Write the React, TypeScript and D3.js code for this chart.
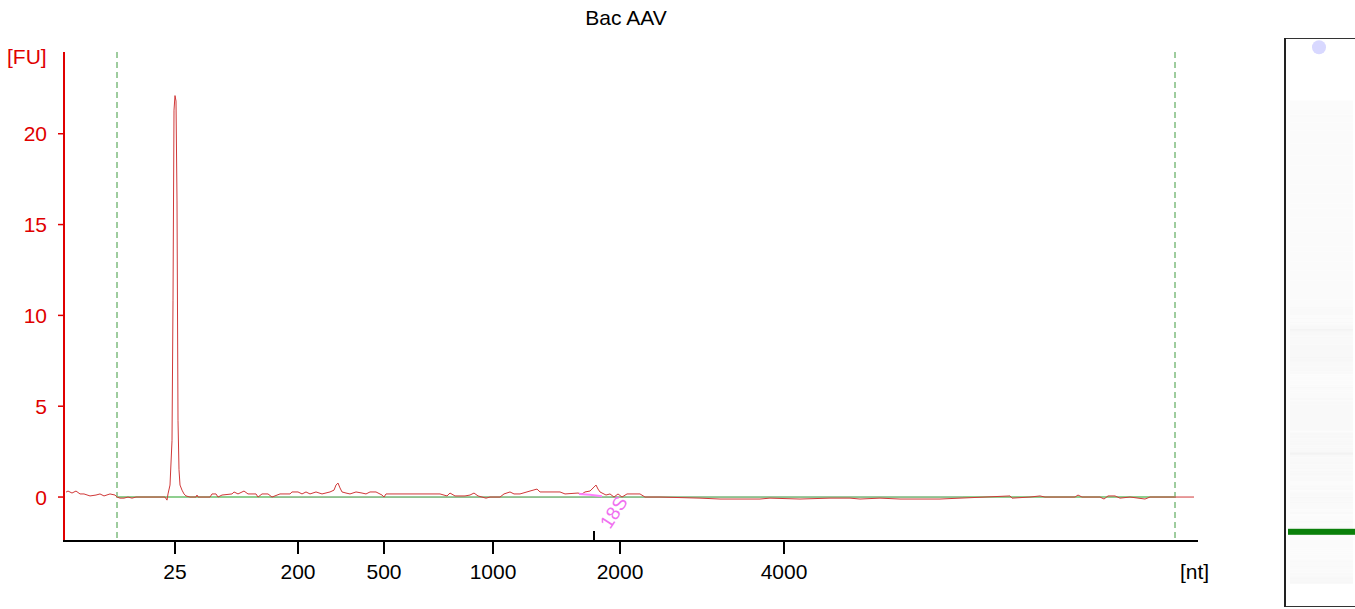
import React from "react";
import * as d3 from "d3";

// ---- data (migration time in s, fluorescence in FU) ----
const trace: [number, number][] = [
  [17.1, 0.27], [17.2, 0.33], [17.4, 0.22], [17.6, 0.33], [17.8, 0.17], [18.0, 0.17],
  [18.3, 0.06], [18.6, 0.11], [18.8, 0.17], [19.0, 0.06], [19.3, 0.17], [19.55, 0.11],
  [19.65, 0.0], [19.8, -0.06], [20.0, -0.06], [20.2, 0.0], [20.4, -0.06], [20.6, 0.0],
  [20.8, 0.0], [22.05, 0.0], [22.15, -0.17], [22.2, 0.17], [22.3, 0.66], [22.4, 3.1],
  [22.45, 10.8], [22.5, 21.3], [22.55, 22.1], [22.6, 21.8], [22.65, 16.3], [22.7, 4.2],
  [22.75, 1.5], [22.8, 0.66], [22.9, 0.38], [23.0, 0.17], [23.1, 0.06], [23.3, 0.0],
  [23.6, 0.0], [23.65, 0.11], [23.7, 0.0], [24.3, 0.0], [24.4, 0.17], [24.6, 0.17],
  [24.7, 0.0], [24.9, 0.11], [25.4, 0.17], [25.5, 0.28], [25.7, 0.17], [26.0, 0.33],
  [26.2, 0.17], [26.6, 0.17], [26.7, 0.0], [26.9, 0.17], [27.2, 0.17], [27.4, 0.0],
  [27.8, 0.17], [28.3, 0.17], [28.4, 0.28], [28.7, 0.28], [28.9, 0.17], [29.1, 0.28],
  [29.3, 0.17], [29.6, 0.28], [29.9, 0.17], [30.3, 0.28], [30.5, 0.38], [30.6, 0.66],
  [30.7, 0.77], [30.8, 0.5], [30.9, 0.28], [31.1, 0.22], [31.3, 0.17], [31.6, 0.28],
  [31.9, 0.22], [32.1, 0.17], [32.3, 0.28], [32.6, 0.28], [32.9, 0.11], [33.0, 0.0],
  [33.1, 0.17], [35.8, 0.17], [36.15, 0.06], [36.3, 0.22], [36.55, 0.06], [37.05, 0.06],
  [37.3, 0.11], [37.5, 0.22], [37.7, 0.06], [37.9, 0.0], [38.1, -0.06], [38.3, 0.0],
  [38.8, 0.0], [39.0, 0.17], [39.3, 0.28], [39.5, 0.17], [39.8, 0.17], [40.3, 0.33],
  [40.65, 0.44], [40.8, 0.28], [41.8, 0.28], [42.05, 0.17], [42.7, 0.22], [42.9, 0.17],
  [43.05, 0.28], [43.3, 0.33], [43.5, 0.55], [43.6, 0.66], [43.7, 0.44], [43.8, 0.28],
  [44.1, 0.11], [44.3, 0.17], [44.5, 0.0], [44.7, 0.17], [44.9, 0.0], [45.15, 0.17],
  [45.8, 0.17], [46.05, 0.0], [46.8, 0.0], [48.8, -0.06], [49.8, -0.11], [50.8, -0.11],
  [51.8, -0.11], [52.3, -0.06], [53.8, -0.11], [55.3, -0.06], [56.3, -0.06], [56.8, -0.11],
  [57.8, -0.06], [58.8, -0.11], [60.8, -0.11], [61.8, -0.06], [63.05, 0.0], [64.3, 0.06],
  [64.4, -0.06], [65.3, 0.0], [65.8, 0.06], [66.05, 0.0], [67.55, 0.0], [67.7, 0.11],
  [67.9, 0.0], [68.8, 0.0], [69.0, -0.11], [69.2, 0.06], [69.55, 0.06], [69.8, -0.06],
  [70.3, 0.0], [71.05, -0.11], [71.3, 0.0], [72.55, 0.0], [73.5, 0.0],
];

const peak18SBase: [number, number][] = [[42.75, 0.17], [43.3, 0.12], [43.9, 0.05]];
const peak18SLabel = "18S";
const peak18STime = 43.5;

const xTickLabels = ["25", "200", "500", "1000", "2000", "4000"];
const xTickTimes = [22.55, 28.7, 33.0, 38.45, 44.8, 53.0];
const yTickValues = [0, 5, 10, 15, 20];
const windowTimes = [19.65, 72.55];
const baselineSegments: [number, number, string][] = [
  [19.65, 27.3, "light"], [27.3, 61.95, "dark"], [61.95, 72.55, "light"],
];
const gelMarkerTime = 22.55;
const gelSpotTime = 73.1;

const title = "Bac AAV";

export default function App() {
  const W = 1355, H = 609;
  const font = "'Liberation Sans', Arial, sans-serif";
  const fs = 21;
  const x = d3.scaleLinear().domain([17, 73.65]).range([64, 1197]);
  const y = d3.scaleLinear().domain([-2.42, 24.5]).range([541, 52]);
  const gy = d3.scaleLinear().domain([17, 73.65]).range([585, 42]);

  const line = d3.line<[number, number]>().x(d => x(d[0])).y(d => y(d[1]));
  const red = "#e00000";

  // gel bands from trace
  const gelRows = trace.slice(0, -1).map((d, i) => {
    const n = trace[i + 1];
    const y0 = gy(n[0]);
    const y1 = gy(d[0]);
    const v = Math.max(0, Math.min(d[1], 0.8));
    return { y: Math.min(y0, y1), h: Math.abs(y1 - y0), o: 0.015 + v * 0.05 };
  }).filter(r => r.y > 100 && r.y < 598);

  return (
    <svg width={W} height={H} style={{ position: "absolute", left: 0, top: 0, display: "block", background: "#fff" }}>
      <text x={626} y={25} textAnchor="middle" fontFamily={font} fontSize={fs} fill="#000">{title}</text>

      {/* window lines */}
      {windowTimes.map((t, i) => (
        <line key={i} x1={x(t)} x2={x(t)} y1={52} y2={541} stroke="#3f9a3f" strokeWidth={1} strokeDasharray="6,4" />
      ))}

      {/* baseline */}
      {baselineSegments.map((s, i) => (
        <line key={i} x1={x(s[0])} x2={x(s[1])} y1={y(0)} y2={y(0)}
          stroke={s[2] === "light" ? "#8fcf8f" : "#2e8b2e"} strokeWidth={s[2] === "light" ? 2 : 1} />
      ))}

      {/* trace */}
      <path d={line(trace) || ""} fill="none" stroke="#d03838" strokeWidth={1} strokeLinejoin="round" />
      <path d={line(peak18SBase) || ""} fill="none" stroke="#ff80ff" strokeWidth={2} />

      {/* y axis */}
      <line x1={64} x2={64} y1={52} y2={541} stroke={red} strokeWidth={2} />
      {yTickValues.map(v => (
        <g key={v}>
          <line x1={58} x2={64} y1={y(v)} y2={y(v)} stroke={red} strokeWidth={1.5} />
          <text x={47} y={y(v) + 7.5} textAnchor="end" fontFamily={font} fontSize={fs} fill={red}>{v}</text>
        </g>
      ))}
      <text x={7} y={64} fontFamily={font} fontSize={fs} fill={red}>[FU]</text>

      {/* x axis */}
      <line x1={63} x2={1198} y1={541} y2={541} stroke="#000" strokeWidth={2} />
      {xTickTimes.map((t, i) => (
        <g key={i}>
          <line x1={x(t)} x2={x(t)} y1={541} y2={554} stroke="#000" strokeWidth={2} />
          <text x={x(t)} y={579} textAnchor="middle" fontFamily={font} fontSize={fs} fill="#000">{xTickLabels[i]}</text>
        </g>
      ))}
      <line x1={x(peak18STime)} x2={x(peak18STime)} y1={531} y2={541} stroke="#000" strokeWidth={2} />
      <text transform={`translate(${x(peak18STime) + 16},${530}) rotate(-57)`} fontFamily={font} fontSize={19} fill="#f070f0">{peak18SLabel}</text>
      <text x={1180} y={579} fontFamily={font} fontSize={fs} fill="#000">[nt]</text>

      {/* gel lane */}
      <rect x={1284.5} y={38.5} width={100} height={568} fill="#fff" stroke="#333" strokeWidth={1} />
      {gelRows.map((r, i) => (
        <rect key={i} x={1290} y={r.y} width={63} height={Math.max(r.h, 1)} fill="#000" opacity={r.o} />
      ))}
      <line x1={1285} x2={1285} y1={38} y2={607} stroke="#222" strokeWidth={2} />
      <circle cx={1319} cy={gy(gelSpotTime)} r={7} fill="#d8d8ff" />
      <rect x={1288} y={gy(gelMarkerTime) - 3} width={70} height={6} fill="#0a800a" />
    </svg>
  );
}
